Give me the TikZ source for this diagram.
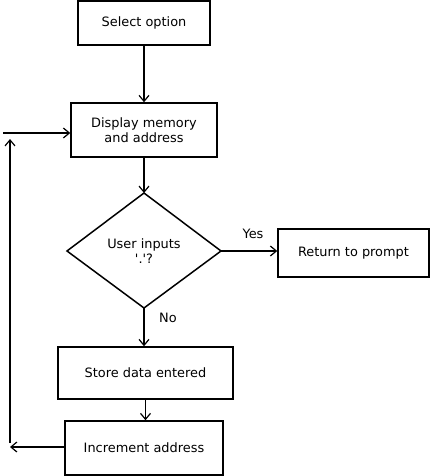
\documentclass[tikz,border=0pt]{standalone}
\usepackage{fontspec}
\setmainfont{DejaVu Sans}
\usetikzlibrary{arrows.meta}
\begin{document}
\begin{tikzpicture}[x=1pt,y=-1pt,
  every node/.style={font=\fontsize{12.9}{15.5}\selectfont},
  box/.style={draw,line width=1.5pt,inner sep=0pt},
  arr/.style={line width=1.5pt,-{Straight Barb[length=6pt,width=10pt,line width=1.2pt]}},
  lbl/.style={inner sep=0pt}]
\useasboundingbox (0,0) rectangle (433,476);
\node[box,minimum width=132pt,minimum height=44pt] (sel) at (144,23) {Select option};
\node[box,minimum width=146pt,minimum height=54pt,align=center] (disp) at (144,130) {Display memory\\and address};
\draw[line width=1.5pt] (144,193) -- (221,251) -- (144,308) -- (67,251) -- cycle;
\coordinate (dtop) at (144,193);
\coordinate (dright) at (221,251);
\coordinate (dbot) at (144,308);
\node[lbl,align=center] (dia) at (144,251) {User inputs\\\textquotesingle.\textquotesingle?};
\node[box,minimum width=151pt,minimum height=48pt] (ret) at (353.5,253) {Return to prompt};
\node[box,minimum width=175pt,minimum height=52pt] (store) at (145.5,373) {Store data entered};
\node[box,minimum width=158pt,minimum height=54pt] (inc) at (144,448) {Increment address};
\node[lbl] (yes) at (253,234) {Yes};
\node[lbl] (no) at (168,318) {No};
\coordinate (loopL) at (10,447);
\coordinate (loopB) at (10,443);
\coordinate (loopT) at (10,139);
\coordinate (inL) at (3,133);
\draw[arr] (sel.south) -- (sel.south |- disp.north);
\draw[arr] (disp.south) -- (dtop);
\draw[arr] (dright) -- (ret.west |- dright);
\draw[arr] (dbot) -- (dbot |- store.north);
\draw[arr] (store.south) -- (store.south |- inc.north);
\draw[arr] (inc.west |- loopL) -- (loopL);
\draw[arr] (loopB) -- (loopT);
\draw[arr] (inL) -- (disp.west |- inL);
\end{tikzpicture}
\end{document}
